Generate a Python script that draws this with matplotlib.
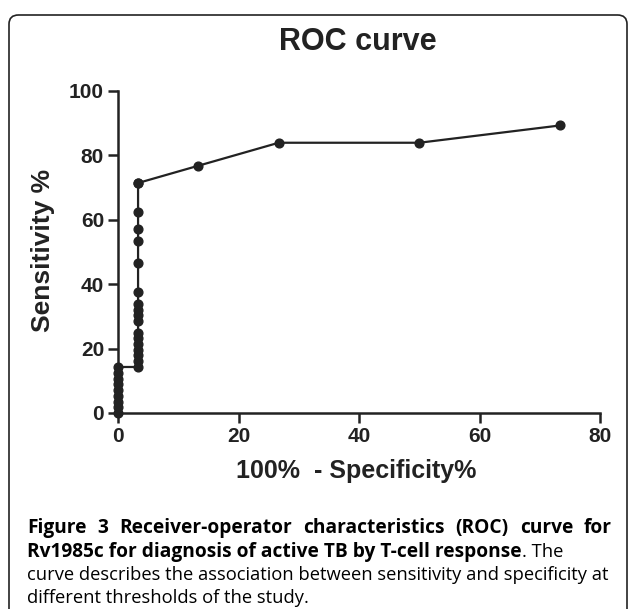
import matplotlib
matplotlib.use("Agg")
import matplotlib.pyplot as plt
from matplotlib.patches import FancyBboxPatch

# ROC data (100% - Specificity%, Sensitivity%)
fpr = [0, 0, 0, 0, 0, 0, 0, 0, 0,
       3.33, 3.33, 3.33, 3.33, 3.33, 3.33, 3.33, 3.33, 3.33, 3.33, 3.33, 3.33,
       3.33, 3.33, 3.33, 3.33, 3.33, 3.33,
       13.33, 26.67, 50.0, 73.33]
sens = [0, 1.79, 3.57, 5.36, 7.14, 8.93, 10.71, 12.5, 14.29,
        14.29, 16.07, 17.86, 19.64, 21.43, 23.21, 25.0, 28.57, 30.36, 32.14, 33.93, 37.5,
        46.43, 53.57, 57.14, 62.5, 71.43, 71.43,
        76.79, 83.93, 83.93, 89.29]
x_ticks = [0, 20, 40, 60, 80]
y_ticks = [0, 20, 40, 60, 80, 100]

title = "ROC curve"
xlabel = "100%  - Specificity%"
ylabel = "Sensitivity %"
cap1 = "Figure 3 Receiver-operator characteristics (ROC) curve for"
cap2_bold = "Rv1985c for diagnosis of active TB by T-cell response"
cap2_norm = ". The"
cap3 = "curve describes the association between sensitivity and specificity at"
cap4 = "different thresholds of the study."

W, H = 629, 609
fig = plt.figure(figsize=(W / 100, H / 100), dpi=100)
fig.patch.set_facecolor("white")

# rounded border (open at bottom)
box = FancyBboxPatch((9 / W, -0.2), (627 - 9) / W, (609 - 15) / H + 0.2,
                     boxstyle="round,pad=0,rounding_size=0.015",
                     transform=fig.transFigure, fill=False, lw=1.2,
                     edgecolor="#222222", clip_on=False)
fig.patches.append(box)

ax = fig.add_axes([118 / W, 1 - 413 / H, (600 - 118) / W, (413 - 91) / H])
col = "#222222"
ax.plot(fpr, sens, "-o", color=col, lw=1.6, markersize=6.3, clip_on=False, zorder=3)
ax.set_xlim(0, 80)
ax.set_ylim(0, 100)
ax.set_xticks(x_ticks)
ax.set_yticks(y_ticks)
for s in ["top", "right"]:
    ax.spines[s].set_visible(False)
for s in ["left", "bottom"]:
    ax.spines[s].set_linewidth(1.8)
    ax.spines[s].set_color(col)
ax.tick_params(length=7, width=1.8, color=col, pad=3)
for lab in ax.get_xticklabels() + ax.get_yticklabels():
    lab.set_fontfamily("Liberation Sans")
    lab.set_fontweight("bold")
    lab.set_fontsize(15)
    lab.set_color(col)

fig.text(358 / W, 1 - 42 / H, title, ha="center", va="center",
         fontfamily="Liberation Sans", fontweight="bold", fontsize=22, color=col)
fig.text(356 / W, 1 - 471 / H, xlabel, ha="center", va="center",
         fontfamily="Liberation Sans", fontweight="bold", fontsize=18, color=col)
fig.text(43 / W, 1 - 250 / H, ylabel, ha="center", va="center", rotation=90,
         fontfamily="Liberation Sans", fontweight="bold", fontsize=19, color=col)

cf = "Open Sans"
cs = 13.2
cb = 13.8
fig.canvas.draw()
r = fig.canvas.get_renderer()

# line 1: justified bold
x0, x1 = 27, 612
words = cap1.split(" ")
widths = []
for w in words:
    t = fig.text(0, 0, w, fontfamily=cf, fontweight="bold", fontsize=cb)
    widths.append(t.get_window_extent(r).width)
    t.remove()
gap = (x1 - x0 - sum(widths)) / (len(words) - 1)
xx = x0
for w, wd in zip(words, widths):
    fig.text(xx / W, 1 - 528 / H, w, fontfamily=cf, fontweight="bold",
             fontsize=cb, va="center", ha="left", color="black")
    xx += wd + gap

t = fig.text(x0 / W, 1 - 552 / H, cap2_bold, fontfamily=cf, fontweight="bold",
             fontsize=cb, va="center", ha="left", color="black")
bw = t.get_window_extent(r).width
fig.text((x0 + bw) / W, 1 - 552 / H, cap2_norm, fontfamily=cf, fontweight="normal",
         fontsize=cs, va="center", ha="left", color="black")
fig.text(x0 / W, 1 - 575 / H, cap3, fontfamily=cf, fontsize=cs, va="center",
         ha="left", color="black")
fig.text(x0 / W, 1 - 598 / H, cap4, fontfamily=cf, fontsize=cs, va="center",
         ha="left", color="black")

fig.savefig("out.png", dpi=100)
